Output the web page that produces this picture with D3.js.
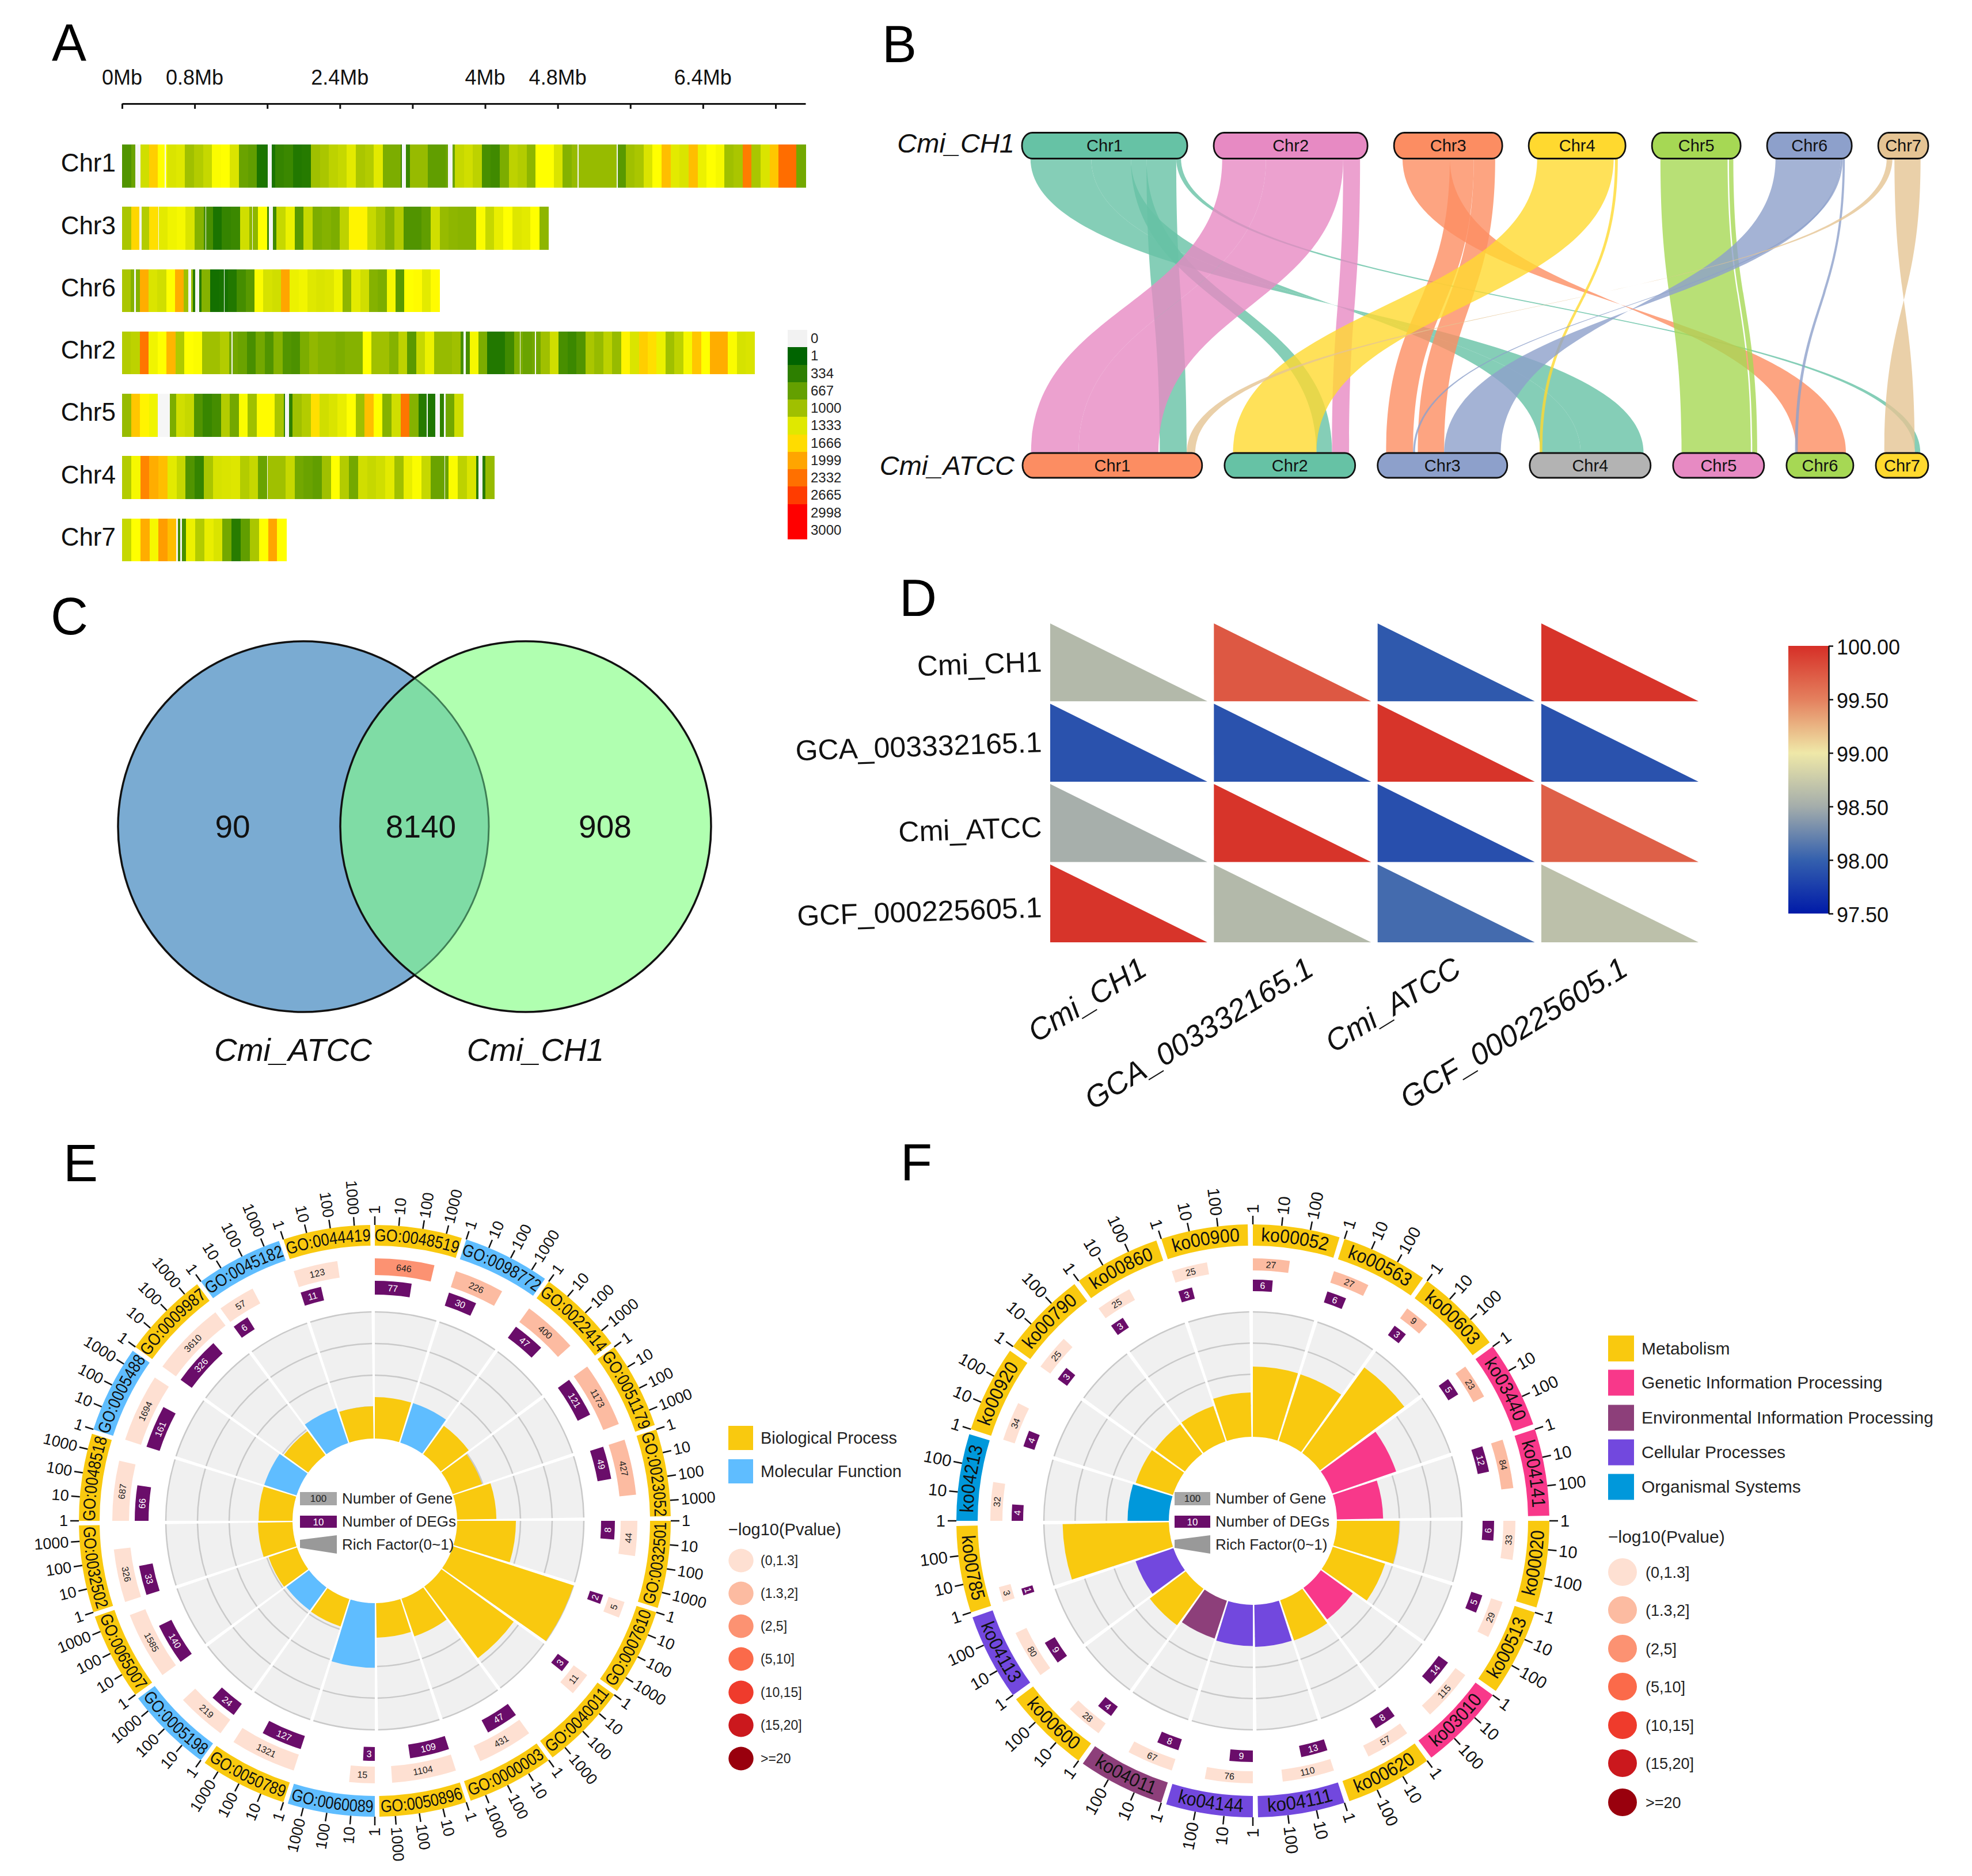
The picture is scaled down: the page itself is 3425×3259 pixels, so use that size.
<!DOCTYPE html>
<html><head><meta charset="utf-8">
<style>html,body{margin:0;padding:0;background:#fff;overflow:hidden}svg{display:block}text{font-family:"Liberation Sans",Arial,sans-serif}</style>
<script src="https://cdn.jsdelivr.net/npm/d3@7/dist/d3.min.js"></script>
</head><body><svg id="c" width="3425" height="3259" viewBox="0 0 3425 3259"></svg>
<script>
// ---------- Panel A data ----------
const chromOrder=["Chr1","Chr3","Chr6","Chr2","Chr5","Chr4","Chr7"];
const chromLengthsMb=[7.53,4.70,3.50,6.97,3.76,4.10,1.81];
const axisTicksMb=[0,0.8,1.6,2.4,3.2,4,4.8,5.6,6.4,7.2];
const axisLabelledMb=[0,0.8,2.4,4,4.8,6.4];
const densityLegend=[0,1,334,667,1000,1333,1666,1999,2332,2665,2998,3000];
const chr1Density=[550,700,1250,1750,1500,1300,1330,1000,1100,1200,1480,1500,1300,700,650,200,200,380,420,250,280,1000,1050,1150,1200,1350,1050,1100,1350,800,800,400,950,950,650,650,700,1200,1250,1150,500,450,800,1150,1100,900,1500,1500,1300,850,950,950,950,950,950,600,1000,1050,1300,1500,1850,1350,1300,1850,1400,1500,1450,1000,1050,2250,1050,1300,1800,2350,2350,750];
const chr3Density=[1050,1700,1100,1650,1350,1420,1450,1300,850,500,200,380,420,1250,900,1500,450,1200,1400,600,1200,800,850,800,1150,1550,1550,1200,1050,850,1100,550,550,650,1250,950,900,880,880,1480,1200,1380,1500,1320,1350,1500,900];
const chr6Density=[1050,850,1950,1300,1250,1500,1950,1000,300,850,150,180,250,480,600,1480,1280,1250,2000,1400,1430,1330,1300,1320,1420,900,1350,1250,850,800,1450,600,1500,1520,1350,1520];
const chr2Density=[1100,1150,2300,1420,1500,1900,1080,1500,1480,1000,1000,1100,750,700,500,750,550,850,560,520,800,920,850,850,800,850,850,1500,1000,1000,850,1150,600,1200,1400,950,950,1000,500,1450,800,250,250,450,800,700,750,1000,1250,500,420,550,1050,950,1150,950,1550,1300,1750,1650,1400,1000,1150,1450,1800,1500,1950,1950,1480,1280,1300];
const chr5Density=[950,1800,1550,1420,0,800,1250,1200,550,400,480,1100,750,1480,1000,1520,1520,1050,350,1000,1100,1650,1250,1300,1380,1500,1000,1850,1500,850,1250,2300,850,280,220,350,750,1250];
const chr4Density=[1100,1450,2200,1950,1850,1350,1200,550,380,1050,1280,1300,1320,1100,1200,700,1000,1000,1200,750,700,650,1000,1500,1100,750,1250,1200,1250,1350,1000,1380,1480,1200,700,700,1480,1150,1300,300,950];
const chr7Density=[1200,1500,1950,1450,2050,1850,500,1400,1100,1380,1300,750,300,650,1050,1500,2000,1500];
const chr1Gaps=[[.147,.201],[.472,.484],[1.605,1.652],[3.08,3.127],[3.593,3.64],[5.015,5.03],[5.45,5.46]];
const chr3Gaps=[[.193,.215],[.401,.406],[.919,.927],[1.433,1.44],[1.62,1.665]];
const chr6Gaps=[[.135,.155],[.731,.761],[.806,.851],[1.124,1.132]];
const chr2Gaps=[[1.207,1.22],[3.762,3.787],[4.383,4.39],[4.55,4.56]];
const chr5Gaps=[[.396,.526],[1.796,1.838],[3.356,3.366],[3.449,3.499],[3.549,3.566]];
const chr4Gaps=[[1.597,1.604],[3.55,3.558],[3.929,3.971]];
const chr7Gaps=[[.597,.613],[.642,.661]];
const densityByChrom=[chr1Density,chr3Density,chr6Density,chr2Density,chr5Density,chr4Density,chr7Density];
const gapsByChrom=[chr1Gaps,chr3Gaps,chr6Gaps,chr2Gaps,chr5Gaps,chr4Gaps,chr7Gaps];

// ---------- Panel B data ----------
const chrNames=["Chr1","Chr2","Chr3","Chr4","Chr5","Chr6","Chr7"];
const topLengthsMb=[7.49,6.91,4.61,4.03,3.62,3.42,1.67];
const bottomLengthsMb=[8.21,5.74,5.69,5.25,3.74,2.52,1.79];
const topColors=["#66c2a5","#e78ac3","#fc8d62","#ffd92f","#a6d854","#8da0cb","#e5c494"];
const bottomColors=["#fc8d62","#66c2a5","#8da0cb","#b3b3b3","#e78ac3","#a6d854","#ffd92f"];
// topChr, topStart, topEnd, bottomChr, bottomStart, bottomEnd (Mb); reversed ends mean inverted blocks
const synteny=[
[0,0,3.07,3,5.32,2.14],[0,3.07,5.07,3,2.14,.11],[0,5.07,5.86,1,4.21,5.0],[0,5.86,7.36,0,6.5,7.86],[0,7.36,7.6,6,1.54,1.82],
[1,0,2.21,0,0,2.4],[1,2.21,6.11,0,2.4,6.43],[1,6.11,6.96,1,5.0,5.86],
[2,0,2.39,5,2.57,.07],[2,2.39,3.6,2,0,1.36],[2,3.6,4.68,2,1.6,2.93],
[3,0,3.86,1,0,4.21],[3,3.93,4.07,3,.07,.21],
[4,0,3.39,4,0,3.5],[4,3.46,3.68,4,3.57,3.82],
[5,0,3.29,2,5.79,2.93],[5,3.29,3.39,2,1.36,1.46],[5,3.39,3.5,5,0,.14],
[6,0,.29,0,8.29,7.86],[6,.39,1.71,6,1.54,0]];

// ---------- Panel C data ----------
const vennCounts=[90,8140,908];
const vennSets=["Cmi_ATCC","Cmi_CH1"];

// ---------- Panel D data ----------
const aniRows=["Cmi_CH1","GCA_003332165.1","Cmi_ATCC","GCF_000225605.1"];
const aniValues=[[98.6,99.75,97.95,99.97],[97.9,97.9,99.97,97.9],[98.52,99.97,97.88,99.7],[99.97,98.6,98.07,98.66]];
const aniTicks=[97.5,98,98.5,99,99.5,100];
const aniStops=[97.5,98,98.5,99,99.5,100];
const aniColors=["#001aa8","#3460ae","#a4adab","#efe8a8","#e4805e","#d62f27"];

// ---------- Panel E data ----------
const goIds=["GO:0048519","GO:0098772","GO:0022414","GO:0051179","GO:0023052","GO:0032501","GO:0007610","GO:0040011","GO:0000003","GO:0050896","GO:0060089","GO:0050789","GO:0005198","GO:0065007","GO:0032502","GO:0048518","GO:0005488","GO:0009987","GO:0045182","GO:0044419"];
const goClass=[0,1,0,0,0,0,0,0,0,0,1,0,1,0,0,0,1,0,1,0];
const goGenes=[646,226,400,1173,427,44,5,11,431,1104,15,1321,219,1585,326,687,1694,3610,57,123];
const goDegs=[77,30,47,121,49,8,2,3,47,109,3,127,24,140,33,66,161,326,6,11];
const goRich=[.327,.327,.277,.245,.31,.464,1,.705,.314,.273,.51,.227,.223,.236,.273,.268,.268,.236,.29,.255];
const goPvalClass=[2,1,1,1,1,0,0,0,0,0,0,0,0,0,0,0,0,0,0,0];
const goClassNames=["Biological Process","Molecular Function"];
const goClassColors=["#f9c90f","#5fbdff"];
const goTicks=[1,10,100,1000];

// ---------- Panel F data ----------
const koIds=["ko00052","ko00563","ko00603","ko03440","ko04141","ko00020","ko00513","ko03010","ko00620","ko04111","ko04144","ko04011","ko00600","ko04113","ko00785","ko04213","ko00920","ko00790","ko00860","ko00900"];
const koClass=[0,0,0,1,1,0,0,1,0,3,3,2,0,3,0,4,0,0,0,0];
const koGenes=[27,27,9,23,84,33,29,115,57,110,76,67,28,80,3,32,34,25,25,25];
const koDegs=[6,6,3,5,12,6,5,14,8,13,9,8,4,9,1,4,4,3,3,3];
const koRich=[.562,.56,.845,.54,.37,.5,.44,.315,.34,.336,.33,.318,.36,.32,.85,.33,.313,.295,.3,.355];
const koPvalClass=[1,1,1,1,1,0,0,0,0,0,0,0,0,0,0,0,0,0,0,0];
const koClassNames=["Metabolism","Genetic Information Processing","Environmental Information Processing","Cellular Processes","Organismal Systems"];
const koClassColors=["#f9c90f","#f8388a","#8d3f7a","#7248de","#0098db"];
const koTicks=[1,10,100];

const pvalLabels=["(0,1.3]","(1.3,2]","(2,5]","(5,10]","(10,15]","(15,20]",">=20"];
const pvalColors=["#fee0d2","#fcbba1","#fc9272","#fb6a4a","#ef3b2c","#cb181d","#99000d"];

// ---------- drawing ----------
const svg=d3.select("#c");
const letterSpots=[["A",90,105],["B",1532,108],["C",88,1102],["D",1562,1070],["E",110,2052],["F",1564,2050]];
svg.selectAll("text.letter").data(letterSpots).join("text").attr("class","letter")
 .attr("x",d=>d[1]).attr("y",d=>d[2]).attr("font-size",90).text(d=>d[0]);

// Panel A
(function(){
 const g=svg.append("g");
 const x=d3.scaleLinear().domain([0,7.53]).range([212,1399]);
 const y=d3.scaleBand().domain(chromOrder).range([251,975.3]).paddingInner(.312).paddingOuter(0);
 const col=d3.scaleLinear()
  .domain([1,334,667,1000,1333,1500,1666,1999,2332,2665,2998])
  .range(["#006400","#2d7f00","#64a000","#a0c000","#e0e800","#ffff00","#ffdc00","#ffa500","#ff7000","#ff3c00","#ff0000"]).clamp(true);
 const color=v=>v===0?"#f2f2f2":col(v);
 const ax=g.append("g").attr("transform","translate(0,180)")
  .call(d3.axisBottom(x).tickValues(axisTicksMb).tickSize(9).tickSizeOuter(0).tickFormat(""));
 ax.select(".domain").attr("stroke","#111").attr("stroke-width",3);
 ax.selectAll(".tick line").attr("stroke","#111").attr("stroke-width",3);
 g.selectAll("text.mb").data(axisLabelledMb).join("text").attr("class","mb")
  .attr("x",d=>x(d)).attr("y",147).attr("text-anchor","middle").attr("font-size",36).attr("fill","#111").text(d=>d+"Mb");
 chromOrder.forEach((name,i)=>{
  const vals=densityByChrom[i],len=chromLengthsMb[i],w=len/vals.length;
  const r=g.append("g").attr("shape-rendering","crispEdges");
  r.selectAll("rect.b").data(vals).join("rect").attr("class","b")
   .attr("x",(d,k)=>x(k*w)).attr("width",(d,k)=>x((k+1)*w)-x(k*w)+.5)
   .attr("y",y(name)).attr("height",y.bandwidth()).attr("fill",d=>color(d));
  r.selectAll("rect.g").data(gapsByChrom[i]).join("rect").attr("class","g")
   .attr("x",d=>x(d[0])).attr("width",d=>x(d[1])-x(d[0]))
   .attr("y",y(name)).attr("height",y.bandwidth()).attr("fill","#f6f6f6");
  g.append("text").attr("x",201).attr("y",y(name)+y.bandwidth()/2+10).attr("text-anchor","end")
   .attr("font-size",44).attr("fill","#111").text(name);
 });
 const ly=d3.scaleBand().domain(densityLegend).range([573,936]);
 const lg=g.append("g");
 lg.selectAll("rect").data(densityLegend).join("rect").attr("shape-rendering","crispEdges")
  .attr("x",1368).attr("width",34).attr("y",d=>ly(d)).attr("height",ly.bandwidth()+.5).attr("fill",d=>color(d));
 lg.selectAll("text").data(densityLegend).join("text").attr("x",1408).attr("y",d=>ly(d)+ly.bandwidth()/2+8)
  .attr("font-size",24).attr("fill","#222").text(d=>d);
})();

// Panel B
(function(){
 const g=svg.append("g");
 const capPx=14.7,pxPerMb=34.4;
 function layout(lengths,x0,gap){
  let c=x0;return lengths.map(l=>{const w=l*pxPerMb+2*capPx;const o={x:c,w,scale:d3.scaleLinear().domain([0,l]).range([c+capPx,c+capPx+l*pxPerMb])};c+=w+gap;return o;});
 }
 const top=layout(topLengthsMb,1775,46),bot=layout(bottomLengthsMb,1776,39);
 const yT=275,yB=787,yM=(yT+yB)/2;
 const links=g.append("g");
 links.selectAll("path").data(synteny).join("path")
  .attr("fill",d=>topColors[d[0]]).attr("fill-opacity",.8)
  .attr("d",d=>{
   const a0=top[d[0]].scale(d[1]),a1=top[d[0]].scale(d[2]),b0=bot[d[3]].scale(d[4]),b1=bot[d[3]].scale(d[5]);
   const p=d3.path();
   p.moveTo(a0,yT);p.bezierCurveTo(a0,yM,b0,yM,b0,yB);
   p.lineTo(b1,yB);p.bezierCurveTo(b1,yM,a1,yM,a1,yT);p.closePath();
   return p.toString();
  });
 function chroms(lay,colors,y,h){
  const n=g.append("g").selectAll("g").data(chrNames).join("g");
  n.append("rect").attr("x",(d,i)=>lay[i].x).attr("width",(d,i)=>lay[i].w).attr("y",y).attr("height",h)
   .attr("rx",18).attr("ry",22).attr("fill",(d,i)=>colors[i]).attr("stroke","#111").attr("stroke-width",2.8);
  n.append("text").attr("x",(d,i)=>lay[i].x+lay[i].w/2).attr("y",y+h/2+10).attr("text-anchor","middle")
   .attr("font-size",29).attr("fill","#111").text(d=>d);
 }
 chroms(top,topColors,230.5,45);
 chroms(bot,bottomColors,787,43);
 [["Cmi_CH1",265],["Cmi_ATCC",825]].forEach(t=>g.append("text").attr("x",1762).attr("y",t[1]).attr("text-anchor","end")
   .attr("font-size",47).attr("font-style","italic").attr("fill","#111").text(t[0]));
})();

// Panel C
(function(){
 const g=svg.append("g");
 const R=322,cy=1436,cxs=[527,913];
 const defs=svg.append("defs");
 defs.append("clipPath").attr("id","leftClip").append("circle").attr("cx",cxs[0]).attr("cy",cy).attr("r",R);
 defs.append("clipPath").attr("id","rightClip").append("circle").attr("cx",cxs[1]).attr("cy",cy).attr("r",R);
 g.append("circle").attr("cx",cxs[0]).attr("cy",cy).attr("r",R).attr("fill","#7aabd2").attr("stroke","#111").attr("stroke-width",3.5);
 g.append("circle").attr("cx",cxs[1]).attr("cy",cy).attr("r",R).attr("fill","#b0ffb0");
 g.append("circle").attr("cx",cxs[1]).attr("cy",cy).attr("r",R).attr("fill","#7fdca5").attr("clip-path","url(#leftClip)");
 g.append("circle").attr("cx",cxs[0]).attr("cy",cy).attr("r",R).attr("fill","none").attr("stroke","#3f7f55").attr("stroke-width",3).attr("clip-path","url(#rightClip)");
 g.append("circle").attr("cx",cxs[1]).attr("cy",cy).attr("r",R).attr("fill","none").attr("stroke","#111").attr("stroke-width",3.5);
 const tx=[404,731,1051];
 g.selectAll("text.n").data(vennCounts).join("text").attr("class","n").attr("x",(d,i)=>tx[i]).attr("y",1455)
  .attr("text-anchor","middle").attr("font-size",55).attr("fill","#111").text(d=>d);
 const lx=[509,930];
 g.selectAll("text.s").data(vennSets).join("text").attr("class","s").attr("x",(d,i)=>lx[i]).attr("y",1843)
  .attr("text-anchor","middle").attr("font-size",55).attr("font-style","italic").attr("fill","#111").text(d=>d);
})();

// Panel D
(function(){
 const g=svg.append("g");
 const x=d3.scaleBand().domain(aniRows).range([1824,2950]).paddingInner(.04);
 const y=d3.scaleBand().domain(aniRows).range([1083,1637]).paddingInner(.03);
 const col=d3.scaleLinear().domain(aniStops).range(aniColors);
 const cells=aniRows.flatMap((r,i)=>aniRows.map((c,j)=>({r,c,v:aniValues[i][j]})));
 g.selectAll("path").data(cells).join("path").attr("fill",d=>col(d.v)).attr("d",d=>{
  const x0=x(d.c),y0=y(d.r),w=x.bandwidth(),h=y.bandwidth();
  const p=d3.path();p.moveTo(x0,y0);p.lineTo(x0,y0+h);p.lineTo(x0+w,y0+h);p.closePath();return p.toString();
 });
 const rowNudge=[16,16,24,24];
 g.selectAll("text.row").data(aniRows).join("text").attr("class","row")
  .attr("transform",(d,i)=>`translate(1810,${y(d)+y.bandwidth()/2+rowNudge[i]}) rotate(-2)`)
  .attr("text-anchor","end").attr("font-size",50).attr("fill","#111").text(d=>d);
 const endOffset=[31,36,8,13];
 g.selectAll("text.colh").data(aniRows).join("text").attr("class","colh")
  .attr("transform",(d,i)=>`translate(${x(d)+x.bandwidth()/2+endOffset[i]+4},1692) rotate(-31.5)`)
  .attr("text-anchor","end").attr("font-size",53).attr("font-style","italic").attr("fill","#111").text(d=>d);
 const cb=d3.scaleLinear().domain([97.5,100]).range([1587,1122]);
 const grad=svg.append("defs").append("linearGradient").attr("id","aniGrad").attr("x1",0).attr("x2",0).attr("y1",1).attr("y2",0);
 grad.selectAll("stop").data(aniStops).join("stop").attr("offset",d=>(d-97.5)/2.5).attr("stop-color",d=>col(d));
 g.append("rect").attr("x",3106).attr("y",1122).attr("width",70).attr("height",465).attr("fill","url(#aniGrad)");
 const ax=g.append("g").attr("transform","translate(3176,0)")
  .call(d3.axisRight(cb).tickValues(aniTicks).tickFormat(d3.format(".2f")).tickSize(8).tickSizeOuter(0));
 ax.select(".domain").attr("stroke","#111").attr("stroke-width",2.5);
 ax.selectAll(".tick line").attr("stroke","#111").attr("stroke-width",2.5);
 ax.selectAll("text").attr("font-size",36).attr("fill","#111").attr("font-family",'"Liberation Sans",Arial,sans-serif').attr("x",14).attr("dy","0.4em");
})();

// Panels E, F
const rad=d=>d*Math.PI/180;
function circular(o){
 const g=svg.append("g").attr("transform",`translate(${o.cx},${o.cy})`);
 const n=o.ids.length,step=360/n;
 const arc=d3.arc();
 const rich=d3.scaleLinear().domain([0,1]).range([o.r0,o.rMax]);
 const sect=o.ids.map((id,i)=>({id,i,start:i*step,color:o.colors[o.cls[i]]}));
 const A=(a0,a1,r0,r1)=>arc({innerRadius:r0,outerRadius:r1,startAngle:rad(a0),endAngle:rad(a1)});
 // background
 g.selectAll("path.bg").data(sect).join("path").attr("class","bg").attr("fill","#f0f0f0")
  .attr("d",s=>A(s.start,s.start+o.span,o.r0,o.rMax));
 sect.forEach(s=>{
  [.25,.5,.75,1].forEach(f=>g.append("path").attr("fill","none").attr("stroke","#c9c9c9").attr("stroke-width",2.5)
   .attr("d",A(s.start,s.start+o.span,rich(f),rich(f))));
 });
 // rich factor bars
 g.selectAll("path.rich").data(sect).join("path").attr("class","rich").attr("fill",s=>s.color)
  .attr("d",s=>A(s.start,s.start+o.span,o.r0,rich(o.rich[s.i])));
 // outer ring
 g.selectAll("path.ring").data(sect).join("path").attr("class","ring").attr("fill",s=>s.color)
  .attr("d",s=>A(s.start,s.start+o.span,o.ringIn,o.ringOut));
 // ring labels
 const defs=g.append("defs");
 sect.forEach(s=>{
  const mid=s.start+o.span/2,flip=mid>90&&mid<270;
  const r=flip?o.ringLabelR+10:o.ringLabelR-10;
  const a0=rad((flip?mid+40:mid-40)-90),a1=rad((flip?mid-40:mid+40)-90);
  defs.append("path").attr("id",o.key+s.i).attr("d",`M${r*Math.cos(a0)},${r*Math.sin(a0)}A${r},${r} 0 0 ${flip?0:1} ${r*Math.cos(a1)},${r*Math.sin(a1)}`);
  g.append("text").attr("font-size",o.ringFont).attr("fill","#111").attr("text-anchor","middle")
   .append("textPath").attr("href","#"+o.key+s.i).attr("startOffset","50%").attr("textLength",o.ringLen).attr("lengthAdjust","spacingAndGlyphs").text(s.id);
 });
 // ticks
 sect.forEach(s=>{
  const scale=d3.scaleLog().domain([1,1000]).range([s.start,s.start+3*o.decade]);
  o.ticks.forEach(t=>{
   const th=scale(t),a=rad(th-90),c=Math.cos(a),si=Math.sin(a);
   g.append("line").attr("x1",o.ringOut*c).attr("y1",o.ringOut*si).attr("x2",(o.ringOut+15)*c).attr("y2",(o.ringOut+15)*si)
    .attr("stroke","#111").attr("stroke-width",2.5);
   const r=o.ringOut+19,right=th<180;
   g.append("text").attr("transform",`translate(${r*c},${r*si}) rotate(${right?th-90:th+90})`)
    .attr("text-anchor",right?"start":"end").attr("dominant-baseline","central")
    .attr("font-size",o.tickFont).attr("fill","#111").text(t);
  });
 });
 // tracks
 function track(vals,r0,r1,fill,txt,font){
  sect.forEach(s=>{
   const scale=d3.scaleLog().domain([1,1000]).range([s.start,s.start+3*o.decade]);
   const v=vals[s.i],end=scale(v+1);
   g.append("path").attr("fill",fill(s.i)).attr("d",A(s.start,end,r0,r1));
   const mid=(s.start+end)/2,a=rad(mid-90),r=(r0+r1)/2,flip=mid>90&&mid<270;
   g.append("text").attr("transform",`translate(${r*Math.cos(a)},${r*Math.sin(a)}) rotate(${flip?mid+180:mid})`)
    .attr("text-anchor","middle").attr("dominant-baseline","central")
    .attr("font-size",font).attr("fill",txt).text(v);
  });
 }
 track(o.genes,o.geneR[0],o.geneR[1],i=>pvalColors[o.pval[i]],"#222",16);
 track(o.degs,o.degR[0],o.degR[1],()=>"#6a0d6a","#fff",16);
 // centre key
 const c=o.key=="E"?{x:-130,w:64}:{x:-136,w:62};
 g.append("rect").attr("x",c.x).attr("y",-50).attr("width",c.w).attr("height",23).attr("fill","#a6a6a6");
 g.append("text").attr("x",c.x+c.w/2).attr("y",-33).attr("text-anchor","middle").attr("font-size",17).attr("fill","#222").text("100");
 g.append("rect").attr("x",c.x).attr("y",-9).attr("width",c.w).attr("height",21).attr("fill","#6a0d6a");
 g.append("text").attr("x",c.x+c.w/2).attr("y",8).attr("text-anchor","middle").attr("font-size",17).attr("fill","#fff").text("10");
 const tr=d3.path();tr.moveTo(c.x,33);tr.lineTo(c.x+c.w,25);tr.lineTo(c.x+c.w,57);tr.lineTo(c.x,47);tr.closePath();
 g.append("path").attr("d",tr.toString()).attr("fill","#999");
 ["Number of Gene","Number of DEGs","Rich Factor(0~1)"].forEach((t,i)=>g.append("text")
  .attr("x",c.x+c.w+9).attr("y",-30+i*40).attr("font-size",26).attr("fill","#222").text(t));
}
circular({key:"E",cx:651,cy:2642,ids:goIds,cls:goClass,colors:goClassColors,genes:goGenes,degs:goDegs,rich:goRich,pval:goPvalClass,
 ticks:goTicks,decade:4.67,span:17.1,r0:143,rMax:363,ringIn:478,ringOut:514,ringLabelR:496,ringFont:30,ringLen:146,tickFont:27,geneR:[427,456],degR:[393,417]});
circular({key:"F",cx:2176,cy:2642,ids:koIds,cls:koClass,colors:koClassColors,genes:koGenes,degs:koDegs,rich:koRich,pval:koPvalClass,
 ticks:koTicks,decade:5.6,span:17,r0:146,rMax:363,ringIn:478,ringOut:515,ringLabelR:496,ringFont:33,ringLen:116,tickFont:29,geneR:[435,456],degR:[399,419]});

// Legends E, F
function legend(names,colors,L){
 const g=svg.append("g");
 g.selectAll("rect").data(names).join("rect").attr("x",L.sx).attr("y",(d,i)=>L.sy[i]-L.sh/2).attr("width",L.sw).attr("height",L.sh)
  .attr("fill",(d,i)=>colors[i]);
 g.selectAll("text.k").data(names).join("text").attr("class","k").attr("x",L.tx).attr("y",(d,i)=>L.sy[i]+10)
  .attr("font-size",L.kf).attr("fill","#222").text(d=>d);
 g.append("text").attr("x",L.sx).attr("y",L.py+10).attr("font-size",L.kf).attr("fill","#222").text("\u2212log10(Pvalue)");
 g.selectAll("ellipse").data(pvalLabels).join("ellipse").attr("cx",L.ex).attr("cy",(d,i)=>L.ey[i]).attr("rx",L.rx).attr("ry",L.ry)
  .attr("fill",(d,i)=>pvalColors[i]);
 g.selectAll("text.p").data(pvalLabels).join("text").attr("class","p").attr("x",L.etx).attr("y",(d,i)=>L.ey[i]+L.ef*.36)
  .attr("font-size",L.ef).attr("fill","#222").text(d=>d);
}
legend(goClassNames,goClassColors,{kf:29,sx:1265,sw:43,sh:42,sy:[2498,2556],tx:1321,py:2657,ex:1287,rx:21.7,ry:20.4,
 ey:[2711,2768,2825,2882,2940,2997,3055],etx:1321,ef:23});
legend(koClassNames,koClassColors,{kf:30,sx:2793,sw:45,sh:45,sy:[2342.6,2402,2463,2523,2583],tx:2851,py:2670,ex:2818,rx:25,ry:24,
 ey:[2731,2797,2864,2930,2997,3063,3131],etx:2858,ef:27});
</script></body></html>
